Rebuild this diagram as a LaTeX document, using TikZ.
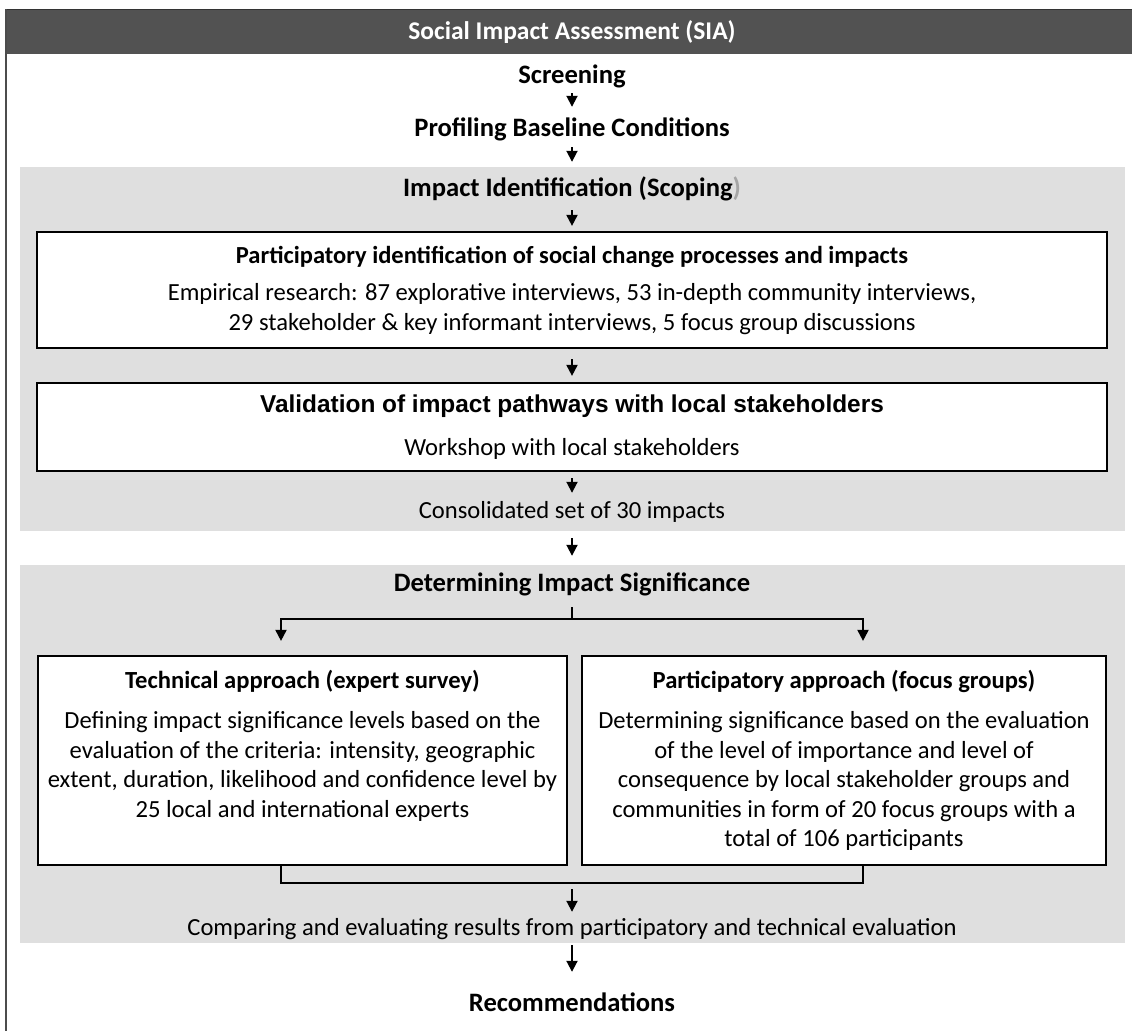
\documentclass[tikz,border=0pt]{standalone}
\usepackage{fontspec}
\setmainfont{Carlito}
\newfontfamily\arialfont{Liberation Sans}
\usetikzlibrary{arrows.meta}
\definecolor{headgray}{RGB}{82,82,82}
\definecolor{panelgray}{RGB}{223,223,223}
\definecolor{parengray}{RGB}{166,166,166}
\tikzset{
  head/.style={font=\bfseries\fontsize{26.6}{31}\selectfont, inner sep=0pt, text height=18pt, text depth=6pt},
  plain/.style={font=\fontsize{24.6}{29.5}\selectfont, inner sep=0pt, text height=17pt, text depth=5pt},
  box/.style={draw=black, line width=2.2pt, fill=white, align=center, inner sep=0pt, font=\fontsize{24.6}{29.5}\selectfont},
  arr/.style={-{Triangle[length=11pt,width=11pt]}, line width=1.9pt},
  link/.style={line width=1.9pt}
}

\begin{document}
\begin{tikzpicture}[x=1pt,y=-1pt]
        \useasboundingbox (0,0) rectangle (1132,1031);
        \fill[panelgray] (20,167) rectangle (1125,531);
        \fill[panelgray] (20,565) rectangle (1125,943);
        \fill[headgray] (6,9) rectangle (1132,54);
        \draw[black!80,line width=1pt] (6,9) -- (1132,9);
        \draw[black!70,line width=2pt] (6,9) -- (6,1031);

        \node[text=white,inner sep=0pt,font=\bfseries\fontsize{25.5}{30}\selectfont] (sia) at (572,32) {Social Impact Assessment (SIA)};
        \node[head] (screen) at (572,77) {Screening};
        \node[head] (profile) at (572,130) {Profiling Baseline Conditions};
        \node[head] (ident) at (572,190) {Impact Identification (Scoping{\color{parengray})}};
        \node[box,minimum width=1070pt,minimum height=116pt] (partid) at (572,290)
          {{\bfseries\fontsize{24.5}{29.5}\selectfont Participatory identification of social change processes and impacts}\\[8pt]
           Empirical research: 87 explorative interviews, 53 in-depth community interviews,\\
           29 stakeholder \& key informant interviews, 5 focus group discussions};
        \node[box,minimum width=1070pt,minimum height=88pt] (valid) at (572,427)
          {{\arialfont\bfseries\fontsize{24.4}{29.5}\selectfont Validation of impact pathways with local stakeholders}\\[14pt]
           Workshop with local stakeholders};
        \node[plain] (consol) at (572,512) {Consolidated set of 30 impacts};
        \node[head] (determ) at (572,585) {Determining Impact Significance};
        \node[box,minimum width=529pt,minimum height=209pt] (tech) at (302.5,760.5)
          {{\bfseries Technical approach (expert survey)}\\[11pt]
           Defining impact significance levels based on the\\
           evaluation of the criteria: intensity, geographic\\
           extent, duration, likelihood and confidence level by\\
           25 local and international experts\\ \vphantom{p}};
        \node[box,minimum width=524pt,minimum height=209pt] (part) at (844,760.5)
          {{\bfseries Participatory approach (focus groups)}\\[11pt]
           Determining significance based on the evaluation\\
           of the level of importance and level of\\
           consequence by local stakeholder groups and\\
           communities in form of 20 focus groups with a\\
           total of 106 participants};
        \node[plain] (compare) at (572,929) {Comparing and evaluating results from participatory and technical evaluation};
        \node[head] (recom) at (572,1005) {Recommendations};

        \coordinate (split) at (572,619);
        \coordinate (merge) at (572,883);

        \draw[arr,shorten <=4pt,shorten >=11pt] (screen) -- (profile);
        \draw[arr,shorten <=5pt,shorten >=16pt] (profile) -- (ident);
        \draw[arr,shorten <=8pt,shorten >=5pt] (ident) -- (partid);
        \draw[arr,shorten <=10pt,shorten >=6pt] (partid) -- (valid);
        \draw[arr,shorten <=6pt,shorten >=8pt] (valid) -- (consol);
        \draw[arr,shorten <=15pt,shorten >=17pt] (consol) -- (determ);
        \draw[link,shorten <=10pt] (determ) -- (split);
        \draw[arr,shorten >=14pt] (split) -| ([xshift=-21.5pt]tech.north);
        \draw[arr,shorten >=14pt] (split) -| ([xshift=19pt]part.north);
        \draw[link] ([xshift=-21.5pt]tech.south) |- (merge) -| ([xshift=19pt]part.south);
        \draw[arr,shorten <=6pt,shorten >=6pt] (merge) -- (compare);
        \draw[arr,shorten <=5pt,shorten >=21pt] (compare) -- (recom);
\end{tikzpicture}
\end{document}
